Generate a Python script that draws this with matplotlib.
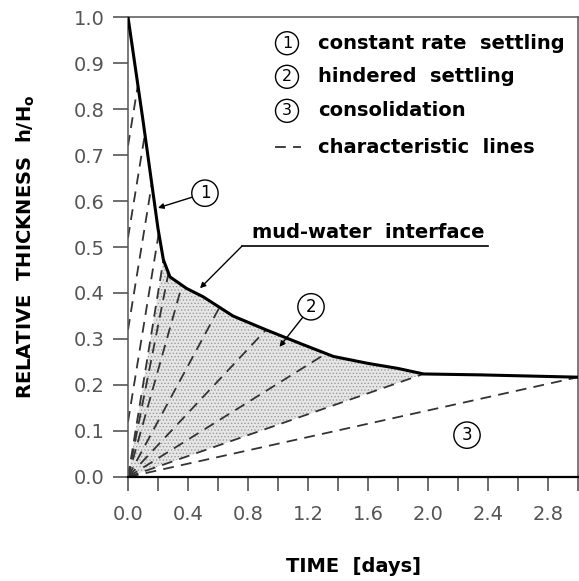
import numpy as np
import matplotlib
matplotlib.use("Agg")
from matplotlib import pyplot as plt

# mud-water interface (time in days, h/Ho)
interface_t = [0.0, 0.1, 0.2, 0.236, 0.28, 0.39, 0.5, 0.7, 0.92, 1.15, 1.37, 1.6, 1.8, 1.97, 2.35, 3.0]
interface_h = [1.0, 0.775, 0.54, 0.472, 0.435, 0.41, 0.392, 0.35, 0.32, 0.29, 0.262, 0.247, 0.236, 0.224, 0.222, 0.217]

# characteristic lines of the constant rate region: start heights on t=0, slope
region1_h0 = [0.12, 0.32, 0.52, 0.72]
region1_slope = 2.0

# fan of characteristic lines from the origin: end times on the interface
fan_t = [0.236, 0.27, 0.36, 0.61, 0.92, 1.32, 1.97, 3.0]
hindered_end = 1.97

legend_labels = ["constant rate  settling", "hindered  settling", "consolidation", "characteristic  lines"]

xticks_major = [0.0, 0.4, 0.8, 1.2, 1.6, 2.0, 2.4, 2.8]
yticks = [0.0, 0.1, 0.2, 0.3, 0.4, 0.5, 0.6, 0.7, 0.8, 0.9, 1.0]

plt.rcParams['font.family'] = ['DejaVu Sans']
plt.rcParams['hatch.color'] = '#9a9a9a'
plt.rcParams['hatch.linewidth'] = 0.6

fig = plt.figure(figsize=(5.79, 5.81), dpi=100)
ax = fig.add_axes([128/579, 104/581, 450/579, 460/581])

it = np.array(interface_t)
ih = np.array(interface_h)


def h_at(t):
    return np.interp(t, it, ih)


# shaded hindered settling zone
mask = (it >= 0.236) & (it <= hindered_end)
poly_t = np.concatenate([[0.0], it[mask]])
poly_h = np.concatenate([[0.0], ih[mask]])
ax.fill(poly_t, poly_h, facecolor='#e6e6e6', edgecolor='#9a9a9a', linewidth=0, hatch='.....', zorder=1)

dash_kw = dict(color='#333333', lw=1.3, dashes=(6, 4), zorder=2)

# region 1 parallel characteristics
k = (1.0 - interface_h[2]) / interface_t[2]
for h0 in region1_h0:
    t_end = (1.0 - h0) / (k + region1_slope)
    ax.plot([0, t_end], [h0, h0 + region1_slope * t_end], **dash_kw)

# fan from the origin
for te in fan_t:
    ax.plot([0, te], [0, h_at(te)], **dash_kw)

# interface
ax.plot(interface_t, interface_h, color='black', lw=2.2, zorder=4)

# circled labels with leaders
circ = dict(boxstyle='circle,pad=0.25', fc='white', ec='black', lw=1.0)
arrow = dict(arrowstyle='-|>', color='black', lw=1.0, mutation_scale=8, shrinkA=0, shrinkB=0)

ax.annotate('1', xy=(0.2, 0.585), xytext=(0.513, 0.617), fontsize=12,
            ha='center', va='center', bbox=circ, arrowprops=arrow, zorder=5)
ax.annotate('2', xy=(1.01, 0.283), xytext=(1.22, 0.37), fontsize=12,
            ha='center', va='center', bbox=circ, arrowprops=arrow, zorder=5)
ax.text(2.26, 0.091, '3', fontsize=12, ha='center', va='center', bbox=circ, zorder=5)

# mud-water interface label
ax.annotate('', xy=(0.48, h_at(0.48) + 0.015), xytext=(0.76, 0.502), arrowprops=arrow, zorder=5)
ax.plot([0.76, 2.4], [0.502, 0.502], color='black', lw=1.2, zorder=5)
ax.text(0.83, 0.51, 'mud-water  interface', fontsize=14, fontweight='bold', ha='left', va='bottom')

# legend block
leg_y = [0.943, 0.870, 0.796, 0.717]
for i, lab in enumerate(legend_labels):
    if i < 3:
        ax.text(1.06, leg_y[i], str(i + 1), fontsize=11.5, ha='center', va='center', bbox=circ)
    else:
        ax.plot([0.98, 1.15], [leg_y[i], leg_y[i]], **dash_kw)
    ax.text(1.267, leg_y[i], lab, fontsize=14, fontweight='bold', ha='left', va='center')

ax.set_xlim(0, 3.0)
ax.set_ylim(0, 1.0)
ax.set_xticks(np.arange(0, 3.01, 0.2), minor=True)
ax.set_xticks(xticks_major)
ax.set_xticklabels([f'{v:.1f}' for v in xticks_major])
ax.set_yticks(yticks)
ax.set_yticklabels([f'{v:.1f}' for v in yticks])
ax.tick_params(axis='both', which='both', direction='out', labelsize=14, labelcolor='#555555',
               color='#555555', width=1.2)
ax.tick_params(axis='x', which='both', length=10, pad=10)
ax.tick_params(axis='y', length=11, pad=6)

for s in ['left', 'top', 'right']:
    ax.spines[s].set_color('#555555')
    ax.spines[s].set_linewidth(1.1)
ax.spines['bottom'].set_color('black')
ax.spines['bottom'].set_linewidth(1.6)

ax.set_xlabel('TIME  [days]', fontsize=14, fontweight='bold', labelpad=24)
ax.set_ylabel(r'RELATIVE  THICKNESS  h/H$_\mathbf{o}$', fontsize=14, fontweight='bold', labelpad=26)

fig.savefig('out.png', dpi=100)
